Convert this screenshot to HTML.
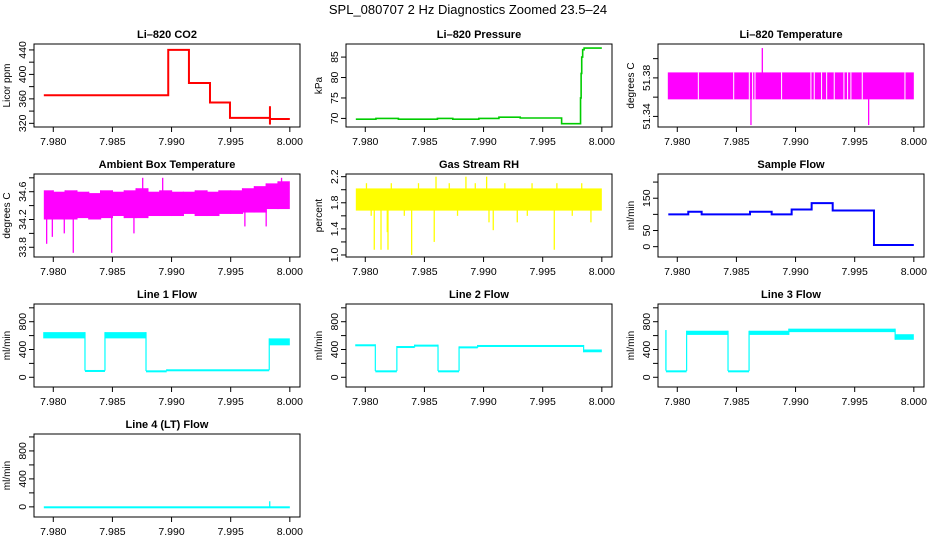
<!DOCTYPE html>
<html><head><meta charset="utf-8">
<style>
body{margin:0;background:#fff;}
svg{display:block;font-family:"Liberation Sans",Arial,sans-serif;}
</style></head>
<body>
<svg id="chart" width="936" height="540" viewBox="0 0 936 540">
<rect width="936" height="540" fill="#fff"/>
<text x="468" y="14" text-anchor="middle" font-size="13">SPL_080707  2 Hz Diagnostics Zoomed 23.5–24</text>
</svg>
<script>
// ---- shared axis data ----
const xTicks = [7.980, 7.985, 7.990, 7.995, 8.000];
const xTickLabels = ["7.980", "7.985", "7.990", "7.995", "8.000"];
const xDomain = [7.97837, 8.00086];

// ---- CO2 (step) ----
const co2Times = [7.9792, 7.98972, 7.99147, 7.99325, 7.99494, 7.99832, 8.0];
const co2Values = [366, 440, 386, 354, 329, 327, 327];
const co2SpikeTime = [7.99832];
const co2SpikeLo = [318];
const co2SpikeHi = [348];

// ---- Pressure (step) ----
const presTimes = [7.9792, 7.9809, 7.9828, 7.9861, 7.9874, 7.9896, 7.9913, 7.9931, 7.9966, 7.9982, 7.99825, 7.9983, 7.99838, 7.9985, 8.0];
const presValues = [69.8, 70.0, 69.8, 70.0, 69.8, 70.0, 70.3, 70.1, 68.7, 75, 81, 85, 86.8, 87.2, 87.2];

// ---- Li-820 temperature (band with gaps and spikes) ----
const tempBandLo = [51.3577];
const tempBandHi = [51.3857];
const tempGapTimes = [7.98178, 7.98477, 7.98609, 7.98637, 7.98657, 7.98882, 7.9913, 7.99158, 7.9922, 7.99263, 7.99327, 7.99409, 7.9944, 7.99468, 7.99564, 7.99925];
const tempSpikeTimes = [7.98719, 7.98623, 7.99618];
const tempSpikeValues = [51.411, 51.331, 51.331];

// ---- Ambient box temperature (band per 0.001 bin + spikes) ----
const ambBinStart = [7.9792, 7.980, 7.981, 7.982, 7.983, 7.984, 7.985, 7.986, 7.987, 7.988, 7.989, 7.990, 7.991, 7.992, 7.993, 7.994, 7.995, 7.996, 7.997, 7.998, 7.999];
const ambLo = [34.2, 34.2, 34.2, 34.22, 34.2, 34.22, 34.25, 34.22, 34.22, 34.25, 34.25, 34.25, 34.28, 34.25, 34.25, 34.28, 34.28, 34.3, 34.3, 34.35, 34.35];
const ambHi = [34.62, 34.6, 34.62, 34.6, 34.58, 34.62, 34.6, 34.62, 34.65, 34.6, 34.62, 34.6, 34.6, 34.62, 34.6, 34.62, 34.62, 34.65, 34.68, 34.72, 34.75];
const ambSpikeTimes = [7.97944, 7.97992, 7.98093, 7.98169, 7.98494, 7.98682, 7.98756, 7.98925, 7.998, 7.9993, 7.9962];
const ambSpikeValues = [33.85, 33.95, 34.0, 33.72, 33.72, 34.0, 34.8, 34.8, 34.1, 34.8, 34.1];

// ---- Gas stream RH ----
const rhBinStart = [7.9792, 8.0];
const rhLo = [1.68];
const rhHi = [2.02];
const rhSpikeTimes = [7.98076, 7.98133, 7.98192, 7.98186, 7.98392, 7.98583, 7.98598, 7.98851, 7.99026, 7.99046, 7.99082, 7.99285, 7.99598, 7.99908, 7.9801, 7.9822, 7.9845, 7.9871, 7.9893, 7.9918, 7.9941, 7.9962, 7.9983, 7.9805, 7.9833, 7.9878, 7.9937, 7.9975];
const rhSpikeValues = [1.08, 1.08, 1.08, 1.35, 1.0, 1.2, 2.2, 2.2, 2.2, 1.5, 1.38, 1.5, 1.08, 1.5, 2.1, 2.1, 2.1, 2.1, 2.1, 2.1, 2.1, 2.1, 2.1, 1.6, 1.6, 1.6, 1.6, 1.6];

// ---- Sample flow (step) ----
const sfTimes = [7.97924, 7.98093, 7.98206, 7.98615, 7.98798, 7.98967, 7.99136, 7.99314, 7.99663, 8.0];
const sfValues = [100, 108, 100, 108, 100, 115, 135, 112, 5, 5];

// ---- Line flows (bands per segment) ----
const l1Times = [7.97915, 7.98268, 7.98437, 7.98784, 7.98959, 7.99826, 8.0];
const l1Lo = [560, 95, 560, 90, 105, 460];
const l1Hi = [650, 105, 650, 100, 115, 560];
const l2Times = [7.97915, 7.98085, 7.98267, 7.98417, 7.98615, 7.98793, 7.9895, 7.99846, 8.0];
const l2Lo = [450, 90, 430, 445, 90, 425, 440, 360];
const l2Hi = [475, 100, 450, 470, 100, 445, 465, 400];
const l3Times = [7.97904, 7.98079, 7.98429, 7.98607, 7.98943, 7.99842, 8.0];
const l3Lo = [90, 610, 90, 610, 650, 540];
const l3Hi = [100, 670, 100, 670, 700, 620];
const l4Times = [7.9792, 8.0];
const l4Lo = [-12];
const l4Hi = [8];
const l4SpikeTimes = [7.9983];
const l4SpikeValues = [80];

// ---- panel y-axis tick data ----
const flowTicks = [0, 200, 400, 600, 800, 1000];
const flowLabels = ["0", "", "400", "", "800", ""];

const NS = "http://www.w3.org/2000/svg";
const svg = document.getElementById("chart");
const colLeft = [34, 346, 658], rowTop = [44, 174, 304, 434], PW = 266, PH = 83;

function mk(tag, attrs, parent) {
  const e = document.createElementNS(NS, tag);
  for (const k in attrs) e.setAttribute(k, attrs[k]);
  (parent || svg).appendChild(e);
  return e;
}

function makePanel(c, r, name, title, ylab, ymin, ymax, yticks, ylabels) {
  const L = colLeft[c], T = rowTop[r];
  const g = mk("g", {});
  
  
  const xs = t => L + (t - xDomain[0]) / (xDomain[1] - xDomain[0]) * PW;
  const ys = v => T + PH - (v - ymin) / (ymax - ymin) * PH;
  const marks = mk("g", {}, g);
  
  
  // frame
  const fr = mk("rect", {x: L, y: T, width: PW, height: PH, fill: "none", stroke: "#000", "stroke-width": 1}, g);
  
  
  const tt = mk("text", {x: L + PW / 2, y: T - 6, "text-anchor": "middle", "font-size": 11, "font-weight": "bold"}, g);
  tt.textContent = title;
  
  
  // x axis
  const xa = mk("g", {}, g);
  
  
  xTicks.forEach((t, i) => {
    const x = xs(t);
    mk("line", {x1: x, x2: x, y1: T + PH, y2: T + PH + 5, stroke: "#000"}, xa);
    const lb = mk("text", {x: x, y: T + PH + 18, "text-anchor": "middle", "font-size": 10.5}, xa);
    lb.textContent = xTickLabels[i];
    
    
  });
  // y axis
  const ya = mk("g", {}, g);
  
  
  yticks.forEach((v, i) => {
    const y = ys(v);
    mk("line", {x1: L - 5, x2: L, y1: y, y2: y, stroke: "#000"}, ya);
    if (ylabels[i]) {
      const lb = mk("text", {x: L - 8, y: y, "text-anchor": "middle", "font-size": 10.5, transform: `rotate(-90 ${L - 8} ${y})`}, ya);
      lb.textContent = ylabels[i];
      
      
    }
  });
  const yl = mk("text", {x: L - 24, y: T + PH / 2, "text-anchor": "middle", "font-size": 10, transform: `rotate(-90 ${L - 24} ${T + PH / 2})`}, g);
  yl.textContent = ylab;
  
  
  return {xs, ys, g: marks};
}

function stepLine(p, times, vals, color, w) {
  let d = "";
  for (let i = 0; i < times.length; i++) {
    const x = p.xs(times[i]), y = p.ys(vals[i]);
    if (i === 0) d += `M${x},${y}`;
    else d += `H${x}V${y}`;
  }
  const e = mk("path", {d: d, fill: "none", stroke: color, "stroke-width": w}, p.g);
  
  
}
function bands(p, times, lo, hi, color) {
  for (let i = 0; i < lo.length; i++) {
    const x1 = p.xs(times[i]), x2 = p.xs(times[i + 1]);
    const y1 = p.ys(hi[i]), y2 = p.ys(lo[i]);
    const e = mk("rect", {x: x1, y: y1, width: Math.max(1, x2 - x1), height: Math.max(2, y2 - y1), fill: color}, p.g);
    
    
    if (i > 0) {
      const v = mk("line", {x1: x1, x2: x1, y1: Math.min(y1, p.ys(hi[i - 1])), y2: Math.max(y2, p.ys(lo[i - 1])), stroke: color, "stroke-width": 1.2}, p.g);
      
      
    }
  }
}
function spikes(p, times, vals, base, color) {
  times.forEach((t, i) => {
    const x = p.xs(t);
    const e = mk("line", {x1: x, x2: x, y1: p.ys(base), y2: p.ys(vals[i]), stroke: color, "stroke-width": 1.3}, p.g);
    
    
  });
}

// Panel 1: CO2
let p = makePanel(0, 0, "co2", "Li–820 CO2", "Licor ppm", 314, 449.7, [320, 340, 360, 380, 400, 420, 440], ["320", "", "360", "", "400", "", "440"]);
stepLine(p, co2Times, co2Values, "#ff0000", 2);
co2SpikeTime.forEach((t, i) => {
  const e = mk("line", {x1: p.xs(t), x2: p.xs(t), y1: p.ys(co2SpikeLo[i]), y2: p.ys(co2SpikeHi[i]), stroke: "#ff0000", "stroke-width": 2}, p.g);
  
  
});

// Panel 2: Pressure
p = makePanel(1, 0, "pressure", "Li–820 Pressure", "kPa", 67.9, 88.2, [70, 75, 80, 85], ["70", "75", "80", "85"]);
stepLine(p, presTimes, presValues, "#00cc00", 1.6);

// Panel 3: Li-820 Temperature
p = makePanel(2, 0, "li820-temp", "Li–820 Temperature", "degrees C", 51.329, 51.4152, [51.34, 51.36, 51.38, 51.40], ["51.34", "", "51.38", ""]);
bands(p, [7.9792, 8.0], tempBandLo, tempBandHi, "#ff00ff");
tempGapTimes.forEach(t => {
  const e = mk("line", {x1: p.xs(t), x2: p.xs(t), y1: p.ys(tempBandHi[0]), y2: p.ys(tempBandLo[0]), stroke: "#fff", "stroke-width": 1}, p.g);
  
  
});
spikes(p, tempSpikeTimes, tempSpikeValues, 51.37, "#ff00ff");

// Panel 4: Ambient
p = makePanel(0, 1, "ambient-temp", "Ambient Box Temperature", "degrees C", 33.66, 34.855, [33.8, 34.0, 34.2, 34.4, 34.6, 34.8], ["33.8", "", "34.2", "", "34.6", ""]);
bands(p, ambBinStart.concat([8.0]), ambLo, ambHi, "#ff00ff");
spikes(p, ambSpikeTimes, ambSpikeValues, 34.4, "#ff00ff");

// Panel 5: RH
p = makePanel(1, 1, "gas-rh", "Gas Stream RH", "percent", 0.969, 2.241, [1.0, 1.2, 1.4, 1.6, 1.8, 2.0, 2.2], ["1.0", "", "1.4", "", "1.8", "", "2.2"]);
bands(p, rhBinStart, rhLo, rhHi, "#ffff00");
spikes(p, rhSpikeTimes, rhSpikeValues, 1.85, "#ffff00");

// Panel 6: Sample flow
p = makePanel(2, 1, "sample-flow", "Sample Flow", "ml/min", -32, 225, [0, 50, 100, 150, 200], ["0", "50", "", "150", ""]);
stepLine(p, sfTimes, sfValues, "#0000ff", 2);

// Panels 7-10: line flows
p = makePanel(0, 2, "line1-flow", "Line 1 Flow", "ml/min", -140, 1055, flowTicks, flowLabels);
bands(p, l1Times, l1Lo, l1Hi, "#00ffff");
p = makePanel(1, 2, "line2-flow", "Line 2 Flow", "ml/min", -140, 1055, flowTicks, flowLabels);
bands(p, l2Times, l2Lo, l2Hi, "#00ffff");
p = makePanel(2, 2, "line3-flow", "Line 3 Flow", "ml/min", -140, 1055, flowTicks, flowLabels);
bands(p, l3Times, l3Lo, l3Hi, "#00ffff");
spikes(p, [l3Times[0]], [680], 95, "#00ffff");
p = makePanel(0, 3, "line4-flow", "Line 4 (LT) Flow", "ml/min", -145, 1042, flowTicks, flowLabels);
bands(p, l4Times, l4Lo, l4Hi, "#00ffff");
spikes(p, l4SpikeTimes, l4SpikeValues, 0, "#00ffff");
</script>
</body></html>
